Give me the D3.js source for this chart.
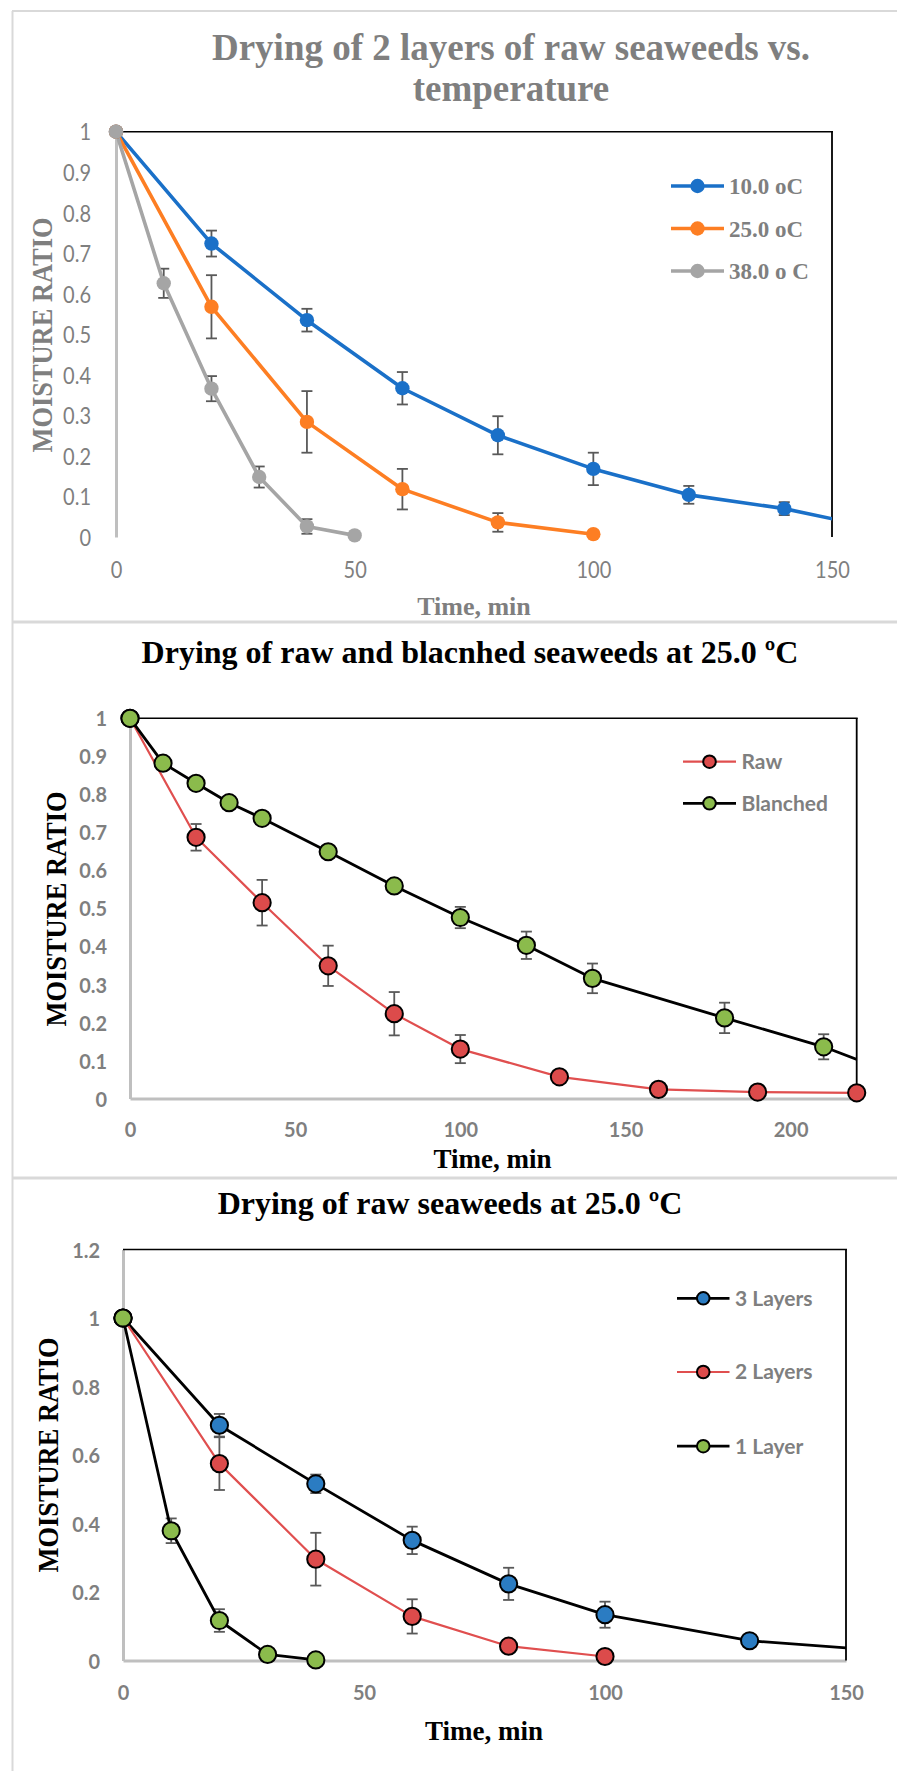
<!doctype html>
<html>
  <head>
    <script src="https://cdnjs.cloudflare.com/ajax/libs/d3/7.8.5/d3.min.js"></script>
    <style>
      body { margin: 0; background: #fff; }
      svg { display: block; }
    </style>
  </head>
  <body>
    <svg id="viz" width="897" height="1771"></svg>
    <script>
        // ---- chart 1 : 2 layers of raw seaweeds vs temperature
        var c1Time10 = [0, 20, 40, 60, 80, 100, 120, 140, 160];
        var c1Mr10 = [1, 0.724, 0.535, 0.367, 0.251, 0.168, 0.104, 0.07, 0.02];
        var c1Err10 = [0, 0.032, 0.028, 0.04, 0.047, 0.04, 0.022, 0.016, 0];
        var c1Time25 = [0, 20, 40, 60, 80, 100];
        var c1Mr25 = [1, 0.568, 0.284, 0.118, 0.036, 0.007];
        var c1Err25 = [0, 0.078, 0.076, 0.05, 0.023, 0];
        var c1Time38 = [0, 10, 20, 30, 40, 50];
        var c1Mr38 = [1, 0.626, 0.366, 0.148, 0.026, 0.004];
        var c1Err38 = [0, 0.036, 0.031, 0.026, 0.018, 0];
        var c1Labels = ["10.0 oC", "25.0 oC", "38.0 o C"];
        var c1XTicks = [0, 50, 100, 150];
        var c1YTicks = [0, 0.1, 0.2, 0.3, 0.4, 0.5, 0.6, 0.7, 0.8, 0.9, 1];

        // ---- chart 2 : raw vs blanched at 25 C
        var c2TimeRaw = [0, 20, 40, 60, 80, 100, 130, 160, 190, 220];
        var c2MrRaw = [1, 0.687, 0.515, 0.349, 0.223, 0.13, 0.057, 0.024, 0.017, 0.015];
        var c2ErrRaw = [0, 0.035, 0.06, 0.053, 0.057, 0.037, 0, 0, 0, 0];
        var c2TimeBl = [0, 10, 20, 30, 40, 60, 80, 100, 120, 140, 180, 210, 240];
        var c2MrBl = [1, 0.882, 0.829, 0.778, 0.737, 0.649, 0.559, 0.476, 0.403, 0.316, 0.212, 0.136, 0.037];
        var c2ErrBl = [0, 0, 0, 0, 0, 0, 0, 0.028, 0.036, 0.039, 0.04, 0.033, 0];
        var c2Labels = ["Raw", "Blanched"];
        var c2XTicks = [0, 50, 100, 150, 200];
        var c2YTicks = [0, 0.1, 0.2, 0.3, 0.4, 0.5, 0.6, 0.7, 0.8, 0.9, 1];

        // ---- chart 3 : raw seaweeds at 25 C, number of layers
        var c3Time3 = [0, 20, 40, 60, 80, 100, 130, 160];
        var c3Mr3 = [1, 0.687, 0.516, 0.351, 0.224, 0.134, 0.058, 0.027];
        var c3Err3 = [0, 0.033, 0.027, 0.04, 0.047, 0.038, 0, 0];
        var c3Time2 = [0, 20, 40, 60, 80, 100];
        var c3Mr2 = [1, 0.575, 0.296, 0.129, 0.042, 0.012];
        var c3Err2 = [0, 0.077, 0.077, 0.05, 0, 0];
        var c3Time1 = [0, 10, 20, 30, 40];
        var c3Mr1 = [1, 0.379, 0.117, 0.018, 0.002];
        var c3Err1 = [0, 0.036, 0.033, 0, 0];
        var c3Labels = ["3 Layers", "2 Layers", "1 Layer"];
        var c3XTicks = [0, 50, 100, 150];
        var c3YTicks = [0, 0.2, 0.4, 0.6, 0.8, 1, 1.2];

        var SERIF = "'Liberation Serif', 'Times New Roman', serif";
        var SANS = "Lato, 'Open Sans', sans-serif";

        var svg = d3.select("#viz");
        var defs = svg.append("defs");

        var shadow = defs.append("filter").attr("id", "axShadow")
            .attr("x", "-5%").attr("y", "-200%").attr("width", "110%").attr("height", "600%");
        shadow.append("feDropShadow").attr("dx", 0).attr("dy", 4).attr("stdDeviation", 3)
            .attr("flood-color", "#000").attr("flood-opacity", 0.25);

        // panel frames
        svg.append("line").attr("x1", 12.5).attr("x2", 12.5).attr("y1", 11).attr("y2", 1771)
            .style("stroke", "#d9d9d9").style("stroke-width", 2);
        [11, 622, 1178].forEach(yy => {
            svg.append("line").attr("x1", 12).attr("x2", 897).attr("y1", yy).attr("y2", yy)
                .style("stroke", "#d9d9d9").style("stroke-width", yy == 11 ? 2 : 3);
        });

        function zip(t, v, e) {
            return t.map((d, i) => ({t: d, v: v[i], e: e ? e[i] : 0}));
        }

        function drawChart(cfg, idx) {
            var g = svg.append("g");
            var x = d3.scaleLinear().domain(cfg.xDomain).range([cfg.left, cfg.right]);
            var y = d3.scaleLinear().domain(cfg.yDomain).range([cfg.bottom, cfg.top]);

            defs.append("clipPath").attr("id", "clip" + idx)
                .append("rect")
                .attr("x", 0).attr("y", cfg.top - 20)
                .attr("width", cfg.right).attr("height", cfg.bottom - cfg.top + 40);

            // axes (grey left & bottom)
            var yAxis = g.append("g")
                .attr("transform", "translate(" + cfg.left + ",0)")
                .call(d3.axisLeft(y).tickValues(cfg.yTicks).tickSize(0).tickFormat(d3.format("~g")));
            var xAxis = g.append("g")
                .attr("transform", "translate(0," + cfg.bottom + ")")
                .call(d3.axisBottom(x).tickValues(cfg.xTicks).tickSize(0).tickFormat(d3.format("d")));
            [xAxis, yAxis].forEach(a => {
                a.select(".domain").style("stroke", "#bfbfbf").style("stroke-width", 3);
                a.selectAll("text")
                    .style("font-family", SANS)
                    .style("font-size", cfg.tickSize + "px")
                    .style("font-weight", cfg.tickWeight)
                    .style("fill", "#7f7f7f");
            });
            if (cfg.shadow) xAxis.select(".domain").attr("filter", "url(#axShadow)");
            // labels drawn at their own origin so they can be narrowed
            yAxis.selectAll("text").attr("x", 0).attr("dy", "0.36em")
                .attr("transform", "translate(" + (-cfg.yPad) + ",0) scale(" + cfg.tickSqueeze + ",1)");
            xAxis.selectAll("text").attr("y", 0).attr("dy", 0)
                .attr("transform", "translate(0," + cfg.xPad + ") scale(" + cfg.tickSqueeze + ",1)");

            // top and right border
            g.append("line").attr("x1", cfg.left).attr("x2", cfg.right + 1)
                .attr("y1", cfg.top).attr("y2", cfg.top)
                .style("stroke", "#000").style("stroke-width", 1.6);
            g.append("line").attr("x1", cfg.right).attr("x2", cfg.right)
                .attr("y1", cfg.top).attr("y2", cfg.bottom)
                .style("stroke", "#000").style("stroke-width", 1.8);

            // error bars
            cfg.series.forEach(s => {
                s.data.filter(d => d.e > 0 && d.t <= cfg.xDomain[1]).forEach(d => {
                    var eg = g.append("g").style("stroke", "#595959").style("stroke-width", 1.8);
                    eg.append("line").attr("x1", x(d.t)).attr("x2", x(d.t))
                        .attr("y1", y(d.v - d.e)).attr("y2", y(d.v + d.e));
                    [d.v - d.e, d.v + d.e].forEach(vv => {
                        eg.append("line").attr("x1", x(d.t) - 5.5).attr("x2", x(d.t) + 5.5)
                            .attr("y1", y(vv)).attr("y2", y(vv));
                    });
                });
            });

            var line = d3.line().x(d => x(d.t)).y(d => y(d.v));
            cfg.series.forEach(s => {
                g.append("path").datum(s.data)
                    .attr("d", line)
                    .attr("clip-path", "url(#clip" + idx + ")")
                    .style("fill", "none")
                    .style("stroke", s.line)
                    .style("stroke-width", s.width)
                    .style("stroke-linejoin", "round");
            });
            cfg.series.forEach(s => {
                g.selectAll(null).data(s.data.filter(d => d.t <= cfg.xDomain[1]))
                    .enter().append("circle")
                    .attr("cx", d => x(d.t)).attr("cy", d => y(d.v))
                    .attr("r", cfg.r)
                    .style("fill", s.fill)
                    .style("stroke", cfg.markerStroke ? "#000" : "none")
                    .style("stroke-width", 2);
            });

            // legend
            cfg.series.forEach((s, i) => {
                var ly = cfg.legend.y[i];
                g.append("line").attr("x1", cfg.legend.x1).attr("x2", cfg.legend.x2)
                    .attr("y1", ly).attr("y2", ly)
                    .style("stroke", s.line).style("stroke-width", s.width);
                g.append("circle").attr("cx", (cfg.legend.x1 + cfg.legend.x2) / 2).attr("cy", ly)
                    .attr("r", cfg.legend.r)
                    .style("fill", s.fill)
                    .style("stroke", cfg.markerStroke ? "#000" : "none")
                    .style("stroke-width", 2);
                g.append("text").attr("x", cfg.legend.tx).attr("y", ly).attr("dy", "0.35em")
                    .text(s.name)
                    .style("font-family", cfg.legend.font)
                    .style("font-size", cfg.legend.size + "px")
                    .style("font-weight", "bold")
                    .style("fill", "#7f7f7f");
            });

            // titles
            cfg.title.lines.forEach((t, i) => {
                g.append("text").attr("x", cfg.title.x).attr("y", cfg.title.y[i])
                    .attr("text-anchor", "middle").text(t)
                    .style("font-family", SERIF).style("font-weight", "bold")
                    .style("font-size", cfg.title.size + "px").style("fill", cfg.textColor);
            });
            g.append("text").attr("x", cfg.xTitle.x).attr("y", cfg.xTitle.y)
                .attr("text-anchor", "middle").text("Time, min")
                .style("font-family", SERIF).style("font-weight", "bold")
                .style("font-size", cfg.xTitle.size + "px").style("fill", cfg.textColor);
            g.append("text")
                .attr("transform", "translate(" + cfg.yTitle.x + "," + cfg.yTitle.y + ") rotate(-90) scale(0.88,1)")
                .attr("text-anchor", "middle").text("MOISTURE RATIO")
                .style("font-family", SERIF).style("font-weight", "bold")
                .style("font-size", cfg.yTitle.size + "px").style("fill", cfg.textColor);
        }

        drawChart({
            left: 116, right: 832, top: 131.7, bottom: 537,
            xDomain: [0, 150], yDomain: [0, 1],
            xTicks: c1XTicks, yTicks: c1YTicks,
            tickSize: 23, tickWeight: "normal", tickSqueeze: 0.87, yPad: 25, xPad: 41,
            shadow: true, r: 7.2, markerStroke: false,
            series: [
                {name: c1Labels[0], data: zip(c1Time10, c1Mr10, c1Err10), line: "#1a70c8", fill: "#1a70c8", width: 3.6},
                {name: c1Labels[1], data: zip(c1Time25, c1Mr25, c1Err25), line: "#fd7e23", fill: "#fd7e23", width: 3.6},
                {name: c1Labels[2], data: zip(c1Time38, c1Mr38, c1Err38), line: "#a5a5a5", fill: "#a5a5a5", width: 3.6}
            ],
            legend: {x1: 671, x2: 724, tx: 729, y: [186, 228.5, 271], r: 7.2, font: SERIF, size: 23},
            title: {lines: ["Drying of 2 layers of raw seaweeds vs.", "temperature"], x: 511, y: [60, 101], size: 37},
            xTitle: {x: 474, y: 615, size: 26},
            yTitle: {x: 52, y: 335, size: 30},
            textColor: "#7f7f7f"
        }, 1);

        drawChart({
            left: 130, right: 856.7, top: 718.3, bottom: 1098.5,
            xDomain: [0, 220], yDomain: [0, 1],
            xTicks: c2XTicks, yTicks: c2YTicks,
            tickSize: 21, tickWeight: "bold", tickSqueeze: 0.95, yPad: 23, xPad: 38.5,
            shadow: false, r: 8.6, markerStroke: true,
            series: [
                {name: c2Labels[0], data: zip(c2TimeRaw, c2MrRaw, c2ErrRaw), line: "#e04f4f", fill: "#dc4b4b", width: 2.2},
                {name: c2Labels[1], data: zip(c2TimeBl, c2MrBl, c2ErrBl), line: "#000", fill: "#8bbb4c", width: 2.8}
            ],
            legend: {x1: 683, x2: 736, tx: 741.5, y: [761.7, 803.3], r: 6.3, font: SANS, size: 21},
            title: {lines: ["Drying of raw and blacnhed seaweeds at 25.0 \u00baC"], x: 470, y: [663], size: 32},
            xTitle: {x: 492.5, y: 1168, size: 27},
            yTitle: {x: 66, y: 909, size: 30},
            textColor: "#000"
        }, 2);

        drawChart({
            left: 123, right: 846, top: 1249.5, bottom: 1660.6,
            xDomain: [0, 150], yDomain: [0, 1.2],
            xTicks: c3XTicks, yTicks: c3YTicks,
            tickSize: 21, tickWeight: "bold", tickSqueeze: 0.95, yPad: 23, xPad: 39.5,
            shadow: false, r: 8.6, markerStroke: true,
            series: [
                {name: c3Labels[0], data: zip(c3Time3, c3Mr3, c3Err3), line: "#000", fill: "#2b7cc2", width: 2.8},
                {name: c3Labels[1], data: zip(c3Time2, c3Mr2, c3Err2), line: "#e04f4f", fill: "#dc4b4b", width: 2.2},
                {name: c3Labels[2], data: zip(c3Time1, c3Mr1, c3Err1), line: "#000", fill: "#8bbb4c", width: 2.8}
            ],
            legend: {x1: 677, x2: 729.5, tx: 735, y: [1298.3, 1372, 1446.2], r: 6.3, font: SANS, size: 21},
            title: {lines: ["Drying of raw seaweeds at 25.0 \u00baC"], x: 450, y: [1214], size: 32},
            xTitle: {x: 484, y: 1740, size: 27},
            yTitle: {x: 58, y: 1455, size: 30},
            textColor: "#000"
        }, 3);
    </script>
  </body>
</html>
